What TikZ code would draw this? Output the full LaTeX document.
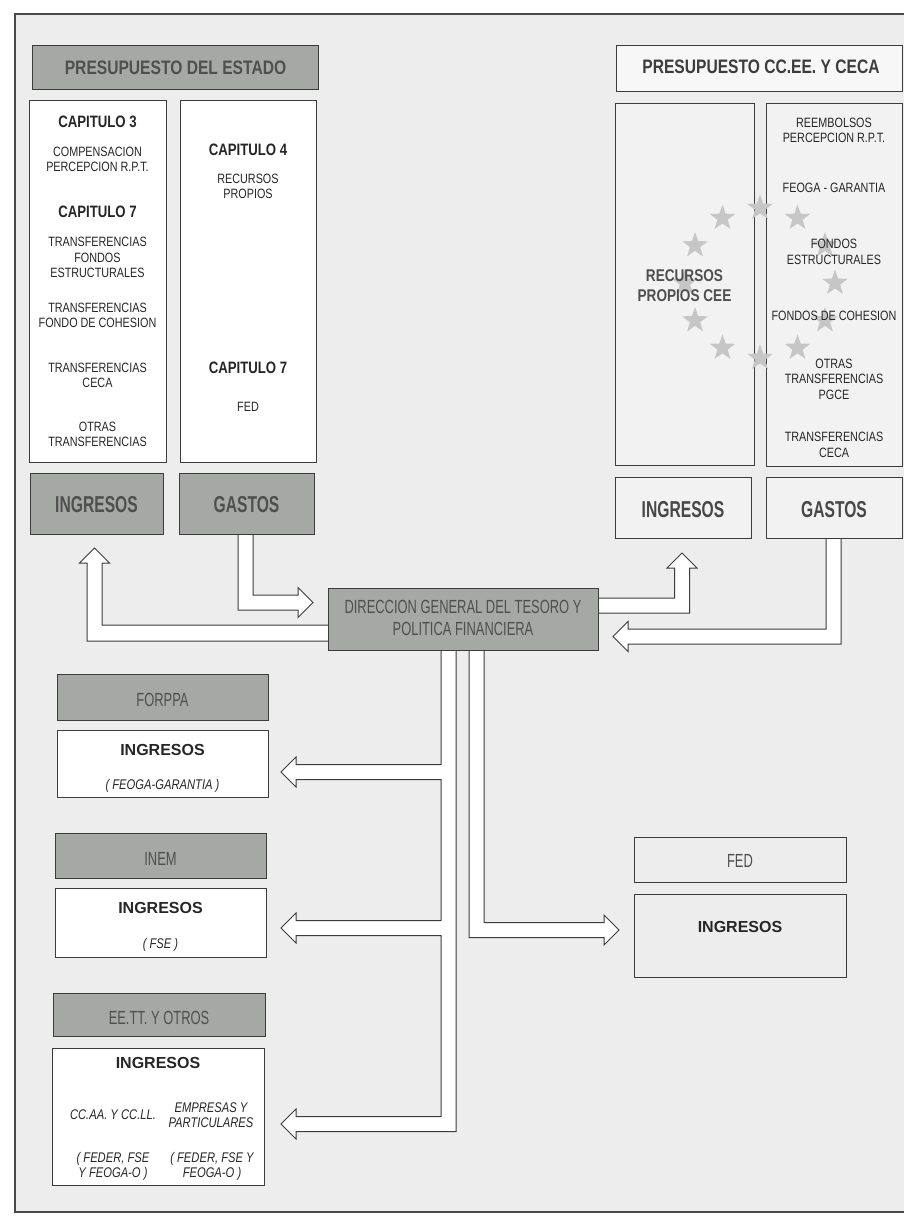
\documentclass[tikz,border=0pt]{standalone}
\usepackage{fontspec}
\setmainfont{Liberation Sans}[FakeStretch=0.8]
\newfontfamily\narrowfont{Liberation Sans}[FakeStretch=0.68]
\newfontfamily\widefont{Liberation Sans}
\usetikzlibrary{positioning,calc,shapes.geometric}
\definecolor{panel}{HTML}{EDEDED}
\definecolor{boxgray}{HTML}{A6A8A6}
\definecolor{boxlight}{HTML}{F2F2F2}
\definecolor{edge}{HTML}{3C3C3C}
\definecolor{framegray}{HTML}{4A4A4A}
\definecolor{ink}{HTML}{262626}
\definecolor{grayink}{HTML}{4F4F4F}
\definecolor{stargray}{HTML}{C6C6C6}
\pgfdeclarelayer{framelayer}
\pgfdeclarelayer{edgelayer}
\pgfsetlayers{framelayer,edgelayer,main}
\tikzset{box/.style={draw=edge, line width=1pt, inner sep=0pt, anchor=north west}}
\tikzset{graybox/.style={box, fill=boxgray}}
\tikzset{whitebox/.style={box, fill=white}}
\tikzset{lightbox/.style={box, fill=boxlight}}
\tikzset{hollow/.style={draw=edge, fill=white, line width=1pt, line join=miter}}
\tikzset{eustar/.style={star, star points=5, star point ratio=2.5, minimum size=27pt, inner sep=0pt, fill=stargray}}
\tikzstyle{txt}=[inner sep=0pt, align=center, text=ink, font=\fontsize{13.5}{15.5}\selectfont]
\tikzstyle{chap}=[inner sep=0pt, text=ink, font=\fontsize{16.5}{19}\selectfont\bfseries]
\tikzstyle{head}=[inner sep=0pt, font=\fontsize{19.5}{22}\selectfont\bfseries]
\tikzstyle{big}=[inner sep=0pt, font=\narrowfont\fontsize{23}{26}\selectfont\bfseries]
\tikzstyle{unit}=[inner sep=0pt, align=center, text=grayink, font=\narrowfont\fontsize{19}{22}\selectfont]
\tikzstyle{strong}=[inner sep=0pt, text=ink, font=\widefont\fontsize{16}{19}\selectfont\bfseries]
\tikzstyle{ital}=[inner sep=0pt, align=center, text=ink, font=\fontsize{14}{15}\selectfont\itshape]

\begin{document}
\begin{tikzpicture}[x=1pt, y=-1pt]
  \useasboundingbox (0,0) rectangle (904,1216);
  \begin{pgfonlayer}{framelayer}
    \fill[white] (0,0) rectangle (904,1216);
    \filldraw[fill=panel, draw=framegray, line width=2.2pt] (15,14) rectangle (920,1212);
  \end{pgfonlayer}

  % presupuesto del estado
  \node[graybox, minimum width=286pt, minimum height=44pt] (pe) at (32,45) {};
  \node[head, text=grayink] (pe_t) at (pe.center) {PRESUPUESTO DEL ESTADO};
  \node[whitebox, minimum width=137pt, minimum height=362pt] (pe_ing) at (29,100) {};
  \node[whitebox, minimum width=136pt, minimum height=362pt] (pe_gas) at (180,100) {};
  \node[graybox, minimum width=133pt, minimum height=61pt] (il) at (30,473) {};
  \node[graybox, minimum width=135pt, minimum height=61pt] (gl) at (179,473) {};
  \node[big, text=grayink] (il_t) at (96.5,505) {INGRESOS};
  \node[big, text=grayink] (gl_t) at (246.5,505) {GASTOS};

  \node[chap] (c3) at (97.5,122) {CAPITULO 3};
  \node[txt] (c3a) at (97.5,159.5) {COMPENSACION\\PERCEPCION R.P.T.};
  \node[chap] (c7) at (97.5,212) {CAPITULO 7};
  \node[txt] (c7a) at (97.5,257.5) {TRANSFERENCIAS\\FONDOS\\ESTRUCTURALES};
  \node[txt] (c7b) at (97.5,315.5) {TRANSFERENCIAS\\FONDO DE COHESION};
  \node[txt] (c7c) at (97.5,375.5) {TRANSFERENCIAS\\CECA};
  \node[txt] (c7d) at (97.5,434.5) {OTRAS\\TRANSFERENCIAS};
  \node[chap] (c4) at (248,150) {CAPITULO 4};
  \node[txt] (c4a) at (248,186.5) {RECURSOS\\PROPIOS};
  \node[chap] (g7) at (248,368) {CAPITULO 7};
  \node[txt] (g7a) at (248,407) {FED};

  % presupuesto cc.ee. y ceca
  \node[lightbox, minimum width=286pt, minimum height=46pt, fill=boxlight!60!white] (pc) at (616,45) {};
  \node[head, text=ink!90] (pc_t) at (761,67) {PRESUPUESTO CC.EE. Y CECA};
  \node[lightbox, minimum width=139pt, minimum height=362pt] (pc_ing) at (615,103) {};
  \node[lightbox, minimum width=136pt, minimum height=363pt] (pc_gas) at (766,103) {};
  \foreach \a in {0,30,...,330}
    \node[eustar] (star\a) at ($(760,283)+(\a:75)$) {};
  \node[lightbox, minimum width=136pt, minimum height=61pt] (ir) at (615,477) {};
  \node[lightbox, minimum width=136pt, minimum height=61pt] (gr) at (766,477) {};
  \node[big, text=ink!85] (ir_t) at (683,510) {INGRESOS};
  \node[big, text=ink!85] (gr_t) at (834,510) {GASTOS};

  \node[chap, text=grayink, align=center, font=\fontsize{17}{20}\selectfont\bfseries] (rp) at (684.5,286) {RECURSOS\\PROPIOS CEE};
  \node[txt] (r1) at (834,130.5) {REEMBOLSOS\\PERCEPCION R.P.T.};
  \node[txt] (r2) at (834,188) {FEOGA - GARANTIA};
  \node[txt] (r3) at (834,252) {FONDOS\\ESTRUCTURALES};
  \node[txt] (r4) at (834,316) {FONDOS DE COHESION};
  \node[txt] (r5) at (834,379) {OTRAS\\TRANSFERENCIAS\\PGCE};
  \node[txt] (r6) at (834,445) {TRANSFERENCIAS\\CECA};

  % tesoro
  \node[graybox, minimum width=270pt, minimum height=62pt] (dg) at (328,588) {};
  \node[unit, text=grayink] (dg_t) at (463,618) {DIRECCION GENERAL DEL TESORO Y\\POLITICA FINANCIERA};

  % organismos
  \node[graybox, minimum width=211pt, minimum height=46pt] (forppa) at (57,674) {};
  \node[unit] (forppa_t) at (162.5,700) {FORPPA};
  \node[whitebox, minimum width=211pt, minimum height=67pt] (forppa_i) at (57,730) {};
  \node[strong] (forppa_a) at (162.5,750) {INGRESOS};
  \node[ital] (forppa_b) at (162.5,786) {( FEOGA-GARANTIA )};

  \node[graybox, minimum width=211pt, minimum height=45pt] (inem) at (55,833) {};
  \node[unit] (inem_t) at (160.5,859) {INEM};
  \node[whitebox, minimum width=211pt, minimum height=69pt] (inem_i) at (55,888) {};
  \node[strong] (inem_a) at (160.5,908) {INGRESOS};
  \node[ital] (inem_b) at (160.5,945) {( FSE )};

  \node[graybox, minimum width=212pt, minimum height=43pt] (eett) at (53,993) {};
  \node[unit] (eett_t) at (159,1018) {EE.TT. Y OTROS};
  \node[whitebox, minimum width=212pt, minimum height=137pt] (eett_i) at (52,1048) {};
  \node[strong] (eett_a) at (158,1063) {INGRESOS};
  \node[ital] (eett_b) at (113,1115) {CC.AA. Y CC.LL.};
  \node[ital] (eett_c) at (211,1115.5) {EMPRESAS Y\\PARTICULARES};
  \node[ital] (eett_d) at (113,1166) {( FEDER, FSE\\Y FEOGA-O )};
  \node[ital] (eett_e) at (212,1166) {( FEDER, FSE Y\\FEOGA-O )};

  \node[lightbox, minimum width=212pt, minimum height=45pt, fill=panel] (fed) at (634,837) {};
  \node[unit] (fed_t) at (740,861) {FED};
  \node[lightbox, minimum width=212pt, minimum height=83pt, fill=panel] (fed_i) at (634,894) {};
  \node[strong] (fed_a) at (740,927) {INGRESOS};

  % flechas
  \begin{pgfonlayer}{edgelayer}
    \filldraw[hollow] (238,0 |- gl.south) -- (238,610) -- (298,610) -- (298,617.5) -- (313,602.5)
      -- (298,587.5) -- (298,595) -- (253,595) -- (253,0 |- gl.south);
    \filldraw[hollow] (dg.west |- 0,625) -- (102,625) -- (102,563) -- (109.5,563) -- (94.5,548)
      -- (79.5,563) -- (87,563) -- (87,641) -- (dg.west |- 0,641);
    \filldraw[hollow] (dg.east |- 0,598) -- (674.5,598) -- (674.5,568) -- (667,568) -- (682,553)
      -- (697,568) -- (689.5,568) -- (689.5,613) -- (dg.east |- 0,613);
    \filldraw[hollow] (826,0 |- gr.south) -- (826,629) -- (628,629) -- (628,621.5) -- (613,636.5)
      -- (628,651.5) -- (628,644) -- (841,644) -- (841,0 |- gr.south);
    \filldraw[hollow] (441,0 |- dg.south) -- (441,764.5) -- (296,764.5) -- (296,757) -- (281,772)
      -- (296,787) -- (296,779.5) -- (441,779.5) -- (441,920.5) -- (296,920.5) -- (296,913)
      -- (281,928) -- (296,943) -- (296,935.5) -- (441,935.5) -- (441,1116.5) -- (296,1116.5)
      -- (296,1109) -- (281,1124) -- (296,1139) -- (296,1131.5) -- (456,1131.5) -- (456,0 |- dg.south);
    \filldraw[hollow] (469,0 |- dg.south) -- (469,937.5) -- (604,937.5) -- (604,945) -- (619,930)
      -- (604,915) -- (604,922.5) -- (484,922.5) -- (484,0 |- dg.south);
  \end{pgfonlayer}
\end{tikzpicture}
\end{document}
